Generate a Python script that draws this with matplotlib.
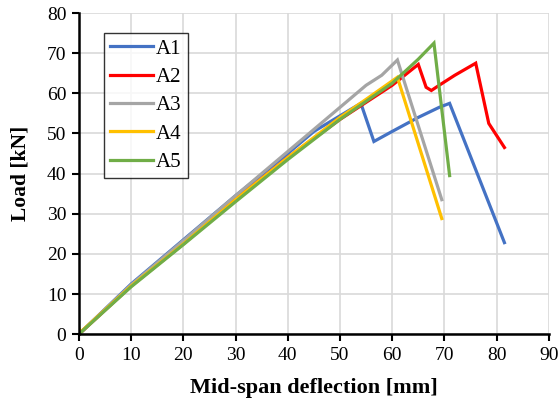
import matplotlib
matplotlib.use("Agg")
import matplotlib.pyplot as plt

labels = ["A1", "A2", "A3", "A4", "A5"]
colors = ["#4472C4", "#FF0000", "#A5A5A5", "#FFC000", "#70AD47"]

a1_x = [0, 10, 20, 30, 40, 45, 54, 56.5, 60, 65, 69, 71, 81.5]
a1_y = [0, 12.5, 23.5, 34.5, 45, 50.5, 57.5, 48, 50.5, 54, 56.5, 57.5, 22.8]
a2_x = [0, 10, 20, 30, 40, 50, 60, 65, 66.5, 67.5, 69, 72, 76, 78.5, 81.5]
a2_y = [0, 12, 22.5, 33.5, 44, 53.5, 62, 67.2, 61.5, 60.7, 62, 64.5, 67.5, 52.5, 46.5]
a3_x = [0, 10, 20, 30, 40, 50, 55, 58, 61, 69.5]
a3_y = [0, 12.3, 23.3, 34.5, 45.5, 56.5, 62, 64.5, 68.3, 33.5]
a4_x = [0, 0.3, 10, 20, 30, 40, 50, 55, 61, 69.5]
a4_y = [1.5, 0.5, 12, 22.5, 33.5, 44, 54, 58.5, 64, 28.8]
a5_x = [0, 10, 20, 30, 40, 50, 60, 65, 68, 71]
a5_y = [0, 11.8, 22.3, 33, 43.5, 53.5, 62.5, 68.5, 72.5, 39.5]

series = [(a1_x, a1_y), (a2_x, a2_y), (a3_x, a3_y), (a4_x, a4_y), (a5_x, a5_y)]

plt.rcParams['font.family'] = ['Liberation Serif', 'DejaVu Serif']

fig = plt.figure(figsize=(5.6, 4.07), dpi=100)
ax = fig.add_axes([0.141, 0.179, 0.839, 0.789])

for (x, y), c, lab in zip(series, colors, labels):
    ax.plot(x, y, color=c, lw=2.3, label=lab, solid_joinstyle='miter')

ax.set_xlim(0, 90)
ax.set_ylim(0, 80)
ax.set_xticks(range(0, 91, 10))
ax.set_yticks(range(0, 81, 10))
ax.grid(True, color="#D9D9D9", lw=1.2)
ax.set_axisbelow(True)
for s in ["top", "right"]:
    ax.spines[s].set_visible(False)
for s in ["left", "bottom"]:
    ax.spines[s].set_linewidth(1.8)
    ax.spines[s].set_color("black")
ax.tick_params(axis='both', direction='out', length=5, width=1.5, labelsize=14, colors='black', pad=4)

ax.set_xlabel("Mid-span deflection [mm]", fontsize=16, fontweight='bold', labelpad=10)
ax.set_ylabel("Load [kN]", fontsize=15.5, fontweight='bold', labelpad=12)

leg = ax.legend(loc='upper left', bbox_to_anchor=(0.053, 0.938), fontsize=15,
                frameon=True, fancybox=False, edgecolor='black', handlelength=2.05,
                handletextpad=0.15, labelspacing=0.42, borderpad=0.3, borderaxespad=0)
leg.get_frame().set_linewidth(1.0)

fig.savefig("out.png", dpi=100)
